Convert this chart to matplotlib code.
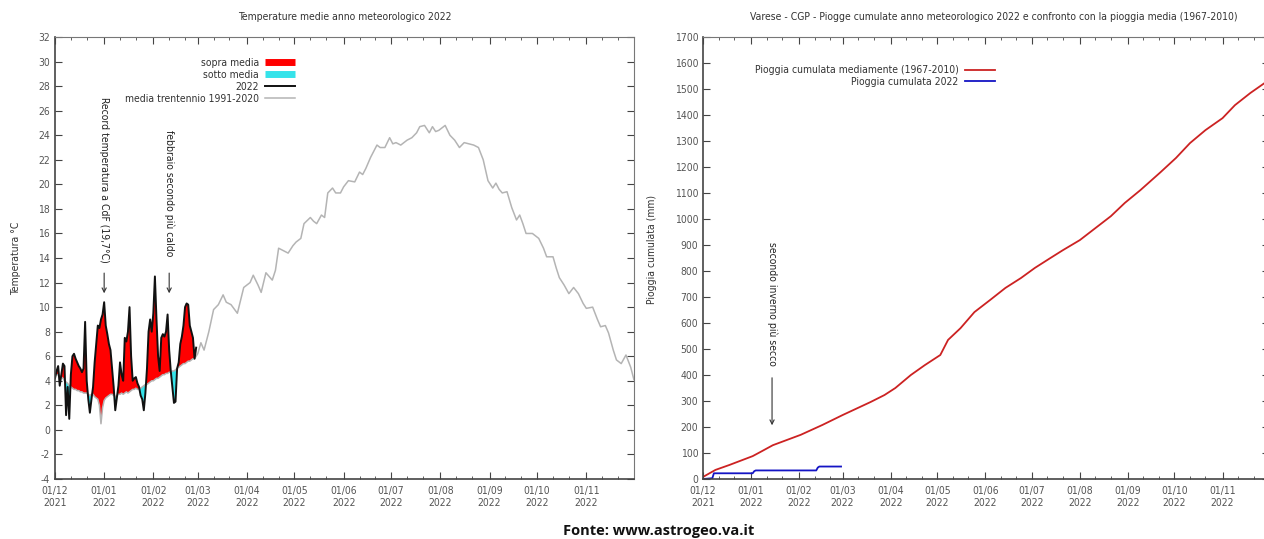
import matplotlib
matplotlib.use("Agg")
import matplotlib.pyplot as plt
from matplotlib.lines import Line2D
from matplotlib import font_manager
import numpy as np

# look for a narrow face, otherwise fall back to Liberation Sans
narrow = [f.name for f in font_manager.fontManager.ttflist
          if f.stretch in ('condensed', 'semi-condensed', 'extra-condensed') or 'Narrow' in f.name
          or 'Condensed' in f.name]
if 'Liberation Sans Narrow' in narrow:
    main_font = ['Liberation Sans Narrow', 'DejaVu Sans']
    fs = 8
elif 'DejaVu Sans' in narrow:
    main_font = ['DejaVu Sans']
    plt.rcParams['font.stretch'] = 'condensed'
    fs = 7.5
else:
    main_font = ['Liberation Sans', 'DejaVu Sans']
    fs = 7.3
plt.rcParams['font.family'] = main_font
plt.rcParams['font.size'] = fs
plt.rcParams['axes.unicode_minus'] = False

red_fill = "#ff0000"
cyan_fill = "#35e3ea"
line_2022 = "#111111"
mean_gray = "#b4b4b4"
rain_mean_color = "#cc2222"
rain_2022_color = "#1414c4"
text_gray = "#555555"

# x axis: days from 01/12/2021
month_days = [0, 31, 62, 90, 121, 151, 182, 212, 243, 274, 304, 335]
month_labels = ["01/12\n2021", "01/01\n2022", "01/02\n2022", "01/03\n2022",
                "01/04\n2022", "01/05\n2022", "01/06\n2022", "01/07\n2022",
                "01/08\n2022", "01/09\n2022", "01/10\n2022", "01/11\n2022"]

# temperature 2022, daily, dec-feb
winter_days = list(range(90))
temp_2022 = [4.2, 4.8, 5.2, 3.6, 4.5, 5.4, 5.2, 1.2, 3.5, 0.9,
             4.5, 6.0, 6.2, 5.8, 5.5, 5.2, 5.0, 4.7, 5.0, 8.8,
             4.0, 2.5, 1.4, 2.5, 3.5, 5.5, 7.0, 8.5, 8.3, 9.0,
             9.4, 10.4, 8.5, 7.8, 7.0, 6.5, 5.0, 3.5, 1.6, 2.6,
             3.6, 5.5, 4.5, 4.0, 7.5, 7.2, 8.0, 10.0, 6.0, 4.0,
             4.2, 4.3, 3.8, 3.5, 2.8, 2.5, 1.6, 3.0, 5.0, 8.0,
             9.0, 8.0, 9.5, 12.5, 9.0, 6.0, 4.8, 7.5, 7.8, 7.6,
             8.0, 9.4, 6.5, 4.8, 3.5, 2.2, 2.3, 5.0, 5.5, 7.0,
             7.6, 8.5, 10.0, 10.3, 10.2, 8.5, 8.0, 7.5, 5.8, 6.7]
# 1991-2020 mean, same days
temp_mean_winter = [4.6, 4.5, 4.5, 4.4, 4.3, 4.2, 4.0, 3.9, 3.8, 3.6,
                    3.5, 3.4, 3.3, 3.3, 3.2, 3.2, 3.1, 3.1, 3.0, 3.0,
                    3.0, 2.9, 2.8, 2.9, 2.9, 2.7, 2.6, 2.5, 2.0, 0.5,
                    1.8, 2.4, 2.6, 2.7, 2.8, 2.9, 2.9, 2.8, 2.7, 2.8,
                    2.9, 2.9, 3.0, 2.9, 3.0, 3.1, 3.0, 3.1, 3.2, 3.3,
                    3.3, 3.4, 3.3, 3.3, 3.4, 3.5, 3.6, 3.7, 3.7, 3.8,
                    3.9, 4.0, 4.0, 4.1, 4.2, 4.2, 4.3, 4.4, 4.5, 4.5,
                    4.6, 4.6, 4.7, 4.7, 4.8, 4.8, 4.9, 5.0, 5.1, 5.2,
                    5.3, 5.4, 5.4, 5.5, 5.6, 5.6, 5.7, 5.8, 5.8, 6.0]
# mean for the rest of the year
mean_days_rest = [90, 92, 94, 97, 100, 103, 106, 108, 111, 115, 119, 123, 125, 128,
                  130, 133, 137, 139, 141, 144, 147, 150, 152, 155, 157, 161, 163,
                  165, 168, 170, 172, 175, 177, 180, 182, 185, 189, 192, 194, 196,
                  199, 203, 205, 208, 211, 213, 215, 218, 220, 222, 225, 228, 230,
                  233, 236, 238, 240, 242, 244, 246, 249, 252, 255, 258, 261, 264,
                  267, 270, 273, 276, 278, 280, 282, 285, 288, 291, 293, 295, 297,
                  301, 305, 308, 310, 314, 316, 318, 321, 324, 327, 330, 333, 335,
                  339, 342, 344, 347, 349, 352, 354, 357, 360, 363, 365]
temp_mean_rest = [6.2, 7.1, 6.5, 8.0, 9.8, 10.2, 11.0, 10.4, 10.2, 9.5, 11.6, 12.0, 12.6, 11.8,
                  11.2, 12.8, 12.2, 13.0, 14.8, 14.6, 14.4, 15.0, 15.3, 15.6, 16.8, 17.3, 17.0,
                  16.8, 17.5, 17.3, 19.3, 19.7, 19.3, 19.3, 19.8, 20.3, 20.2, 21.0, 20.8, 21.3,
                  22.2, 23.2, 23.0, 23.0, 23.8, 23.3, 23.4, 23.2, 23.4, 23.6, 23.8, 24.2, 24.7,
                  24.8, 24.2, 24.7, 24.3, 24.4, 24.6, 24.8, 24.0, 23.6, 23.0, 23.4, 23.3, 23.2,
                  23.0, 22.0, 20.3, 19.7, 20.1, 19.6, 19.3, 19.4, 18.1, 17.1, 17.5, 16.8, 16.0,
                  16.0, 15.6, 14.8, 14.1, 14.1, 13.2, 12.4, 11.8, 11.1, 11.6, 11.1, 10.3, 9.9,
                  10.0, 9.0, 8.4, 8.5, 7.9, 6.5, 5.7, 5.4, 6.1, 5.1, 4.1]

# cumulative rain (mm)
rain_mean_days = [0, 8, 17, 32, 37, 45, 63, 77, 90, 108, 117, 124, 134, 143, 153, 158,
                  166, 175, 185, 195, 205, 214, 224, 232, 243, 253, 263, 272, 282, 295,
                  305, 314, 324, 335, 343, 353, 365]
rain_mean = [8, 35, 54, 88, 104, 130, 170, 208, 246, 296, 323, 350, 400, 438, 477, 535,
             580, 642, 688, 735, 773, 812, 850, 880, 919, 965, 1011, 1062, 1111, 1180,
             1235, 1292, 1342, 1388, 1438, 1485, 1535]
rain_2022_days = [0, 6, 7, 32, 33, 34, 73, 74, 75, 89]
rain_2022 = [0, 3, 22, 22, 30, 33, 33, 44, 48, 48]


def style_axis(ax):
    ax.set_xlim(0, 365)
    ax.set_xticks(month_days)
    ax.set_xticklabels(month_labels)
    ax.set_xticks([d + k for d in month_days for k in (10, 20)], minor=True)
    ax.tick_params(which='both', direction='in', top=True, right=True,
                   color='#444444', labelcolor=text_gray, labelsize=fs)
    ax.tick_params(which='major', length=5, width=0.8)
    ax.tick_params(which='minor', length=2.5, width=0.6)
    ax.tick_params(axis='x', pad=5)
    for s in ax.spines.values():
        s.set_color('#777777')
        s.set_linewidth(0.8)
    ax.spines['left'].set_color('#444444')
    ax.spines['bottom'].set_color('#444444')
    ax.spines['left'].set_linewidth(1.2)
    ax.spines['bottom'].set_linewidth(1.2)


fig = plt.figure(figsize=(12.64, 5.39), dpi=100)
ax1 = fig.add_axes([0.0435, 0.1113, 0.458, 0.820])
ax2 = fig.add_axes([0.5562, 0.1113, 0.4478, 0.820])

# ---- temperature ----
t22 = np.array(temp_2022)
tm = np.array(temp_mean_winter)
ax1.fill_between(winter_days, t22, tm, where=t22 >= tm, interpolate=True, color=red_fill, lw=0)
ax1.fill_between(winter_days, t22, tm, where=t22 < tm, interpolate=True, color=cyan_fill, lw=0)
ax1.plot(winter_days + mean_days_rest, temp_mean_winter + temp_mean_rest, color=mean_gray, lw=1.1)
ax1.plot(winter_days, temp_2022, color=line_2022, lw=1.4)

style_axis(ax1)
ax1.set_ylim(-4, 32)
ax1.set_yticks(np.arange(-4, 33, 2))
ax1.set_title("Temperature medie anno meteorologico 2022", fontsize=fs, color='#333333', pad=12)
ax1.set_ylabel("Temperatura °C", color='#333333', fontsize=fs)
ax1.yaxis.set_label_coords(-0.058, 0.5)

ax1.text(31, 27.1, "Record temperatura a CdF (19,7°C)", rotation=-90, ha='center', va='top',
         fontsize=fs, color='#222222')
ax1.annotate("", xy=(31, 10.9), xytext=(31, 13.0),
             arrowprops=dict(arrowstyle='->', color='#333333', lw=0.8))
ax1.text(72, 24.4, "febbraio secondo più caldo", rotation=-90, ha='center', va='top',
         fontsize=fs, color='#222222')
ax1.annotate("", xy=(72, 10.9), xytext=(72, 13.0),
             arrowprops=dict(arrowstyle='->', color='#333333', lw=0.8))

h1 = [Line2D([], [], color=red_fill, lw=5, solid_capstyle='butt'),
      Line2D([], [], color=cyan_fill, lw=5, solid_capstyle='butt'),
      Line2D([], [], color=line_2022, lw=1.4),
      Line2D([], [], color=mean_gray, lw=1.1)]
ax1.legend(h1, ["sopra media", "sotto media", "2022", "media trentennio 1991-2020"],
           loc='upper right', bbox_to_anchor=(0.415, 0.953), frameon=False, markerfirst=False,
           handlelength=2.9, labelspacing=0.2, handletextpad=0.6, borderaxespad=0,
           borderpad=0, fontsize=fs, labelcolor='#333333')

# ---- rain ----
ax2.plot(rain_mean_days, rain_mean, color=rain_mean_color, lw=1.3)
ax2.plot(rain_2022_days, rain_2022, color=rain_2022_color, lw=1.3)

style_axis(ax2)
ax2.set_ylim(0, 1700)
ax2.set_yticks(np.arange(0, 1701, 100))
ax2.set_title("Varese - CGP - Piogge cumulate anno meteorologico 2022 e confronto con la pioggia media (1967-2010)",
              fontsize=fs, color='#333333', pad=12, x=0.514)
ax2.set_ylabel("Pioggia cumulata (mm)", color='#333333', fontsize=fs)
ax2.yaxis.set_label_coords(-0.082, 0.52)

ax2.text(44.5, 911, "secondo inverno più secco", rotation=-90, ha='center', va='top',
         fontsize=fs, color='#222222')
ax2.annotate("", xy=(44.5, 196), xytext=(44.5, 400),
             arrowprops=dict(arrowstyle='->', color='#333333', lw=0.8))

h2 = [Line2D([], [], color=rain_mean_color, lw=1.3),
      Line2D([], [], color=rain_2022_color, lw=1.3)]
ax2.legend(h2, ["Pioggia cumulata mediamente (1967-2010)", "Pioggia cumulata 2022"],
           loc='upper right', bbox_to_anchor=(0.516, 0.936), frameon=False, markerfirst=False,
           handlelength=2.9, labelspacing=0.15, handletextpad=0.6, borderaxespad=0,
           borderpad=0, fontsize=fs, labelcolor='#333333')

fig.text(0.521, 0.015, "Fonte: www.astrogeo.va.it", ha='center', va='center',
         fontsize=10.5, fontweight='bold', family=['Open Sans', 'DejaVu Sans'], color='#111111')

fig.savefig("out.png", dpi=100)
